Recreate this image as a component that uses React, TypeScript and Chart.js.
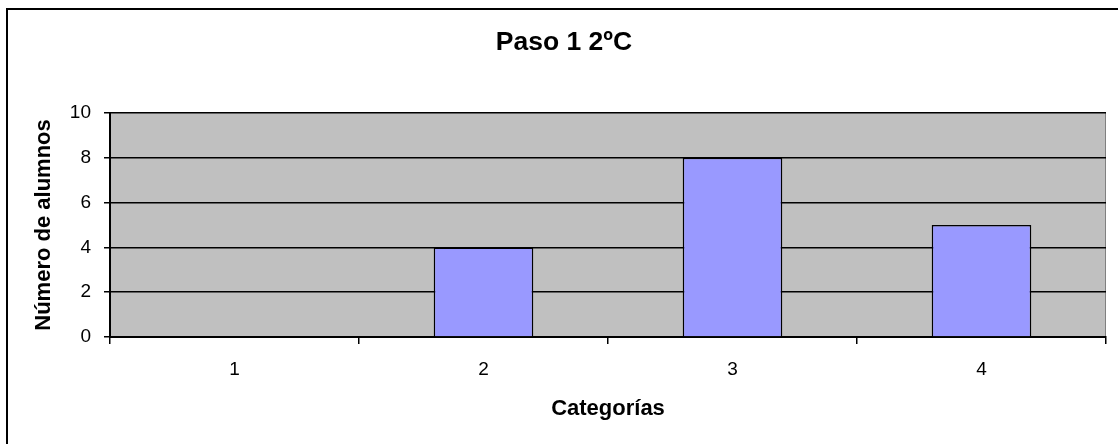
import React, { useEffect, useRef } from 'react';
import { Chart, registerables } from 'chart.js';

Chart.register(...registerables);

const chartTitle = 'Paso 1 2ºC';
const xTitle = 'Categorías';
const yTitle = 'Número de alumnos';
const categories = ['1', '2', '3', '4'];
const alumnos = [0, 4, 8, 5];
const yMin = 0;
const yMax = 10;
const yStep = 2;

const FAMILY = '"Liberation Sans", Arial, sans-serif';

const plotBg = {
  id: 'plotBg',
  beforeDraw(chart: any) {
    const { ctx, chartArea: a } = chart;
    ctx.save();
    ctx.fillStyle = '#C0C0C0';
    ctx.fillRect(a.left, a.top, a.right - a.left, a.bottom - a.top);
    ctx.strokeStyle = '#808080';
    ctx.lineWidth = 1;
    ctx.beginPath();
    ctx.moveTo(a.right - 0.5, a.top);
    ctx.lineTo(a.right - 0.5, a.bottom);
    ctx.stroke();
    ctx.restore();
  },
};

export default function App() {
  const canvasRef = useRef<HTMLCanvasElement | null>(null);

  useEffect(() => {
    const canvas = canvasRef.current;
    if (!canvas) return;
    const chart = new Chart(canvas, {
      type: 'bar',
      data: {
        labels: categories,
        datasets: [
          {
            label: 'Número de alumnos',
            data: alumnos,
            backgroundColor: '#9999FF',
            borderColor: '#000000',
            borderWidth: 1.5,
            barPercentage: 0.4,
            categoryPercentage: 1,
          },
        ],
      },
      options: {
        animation: false,
        responsive: false,
        devicePixelRatio: 1,
        layout: { padding: { left: 22, right: 12, top: 0, bottom: 0 } },
        plugins: {
          legend: { display: false },
          tooltip: { enabled: false },
          title: {
            display: true,
            text: chartTitle,
            color: '#000000',
            font: { family: FAMILY, size: 26.5, weight: 'bold' },
            padding: { top: 27, bottom: 54.2 },
          },
        },
        scales: {
          x: {
            type: 'category',
            offset: true,
            grid: {
              offset: true,
              drawOnChartArea: false,
              drawTicks: true,
              tickLength: 7,
              color: '#000000',
              lineWidth: 1.5,
            },
            border: { display: true, color: '#000000', width: 2 },
            ticks: {
              color: '#000000',
              font: { family: FAMILY, size: 19 },
              padding: 14,
              maxRotation: 0,
            },
            title: {
              display: true,
              text: xTitle,
              color: '#000000',
              font: { family: FAMILY, size: 22, weight: 'bold' },
              padding: { top: 0, bottom: 22 },
            },
            afterFit: (s: any) => {
              s.height = 107;
            },
          },
          y: {
            min: yMin,
            max: yMax,
            ticks: {
              stepSize: yStep,
              color: '#000000',
              font: { family: FAMILY, size: 19 },
              padding: 13,
            },
            grid: { color: '#000000', lineWidth: 1.5, tickLength: 6, drawTicks: true },
            border: { display: true, color: '#000000', width: 2 },
            title: {
              display: true,
              text: yTitle,
              color: '#000000',
              font: { family: FAMILY, size: 22, weight: 'bold' },
              padding: { top: 9, bottom: 0 },
            },
            afterFit: (s: any) => {
              s.width = 88;
            },
          },
        },
      } as any,
      plugins: [plotBg],
    });
    return () => chart.destroy();
  }, []);

  return (
    <div
      style={{
        position: 'fixed',
        left: 0,
        top: 0,
        width: 1118,
        height: 444,
        overflow: 'hidden',
        background: '#ffffff',
      }}
    >
      <div
        style={{
          position: 'absolute',
          left: 6,
          top: 8,
          width: 1200,
          height: 500,
          borderLeft: '2px solid #000000',
          borderTop: '2px solid #000000',
        }}
      />
      <canvas
        ref={canvasRef}
        width={1118}
        height={444}
        style={{ position: 'absolute', left: 0, top: 0, display: 'block' }}
      />
    </div>
  );
}
